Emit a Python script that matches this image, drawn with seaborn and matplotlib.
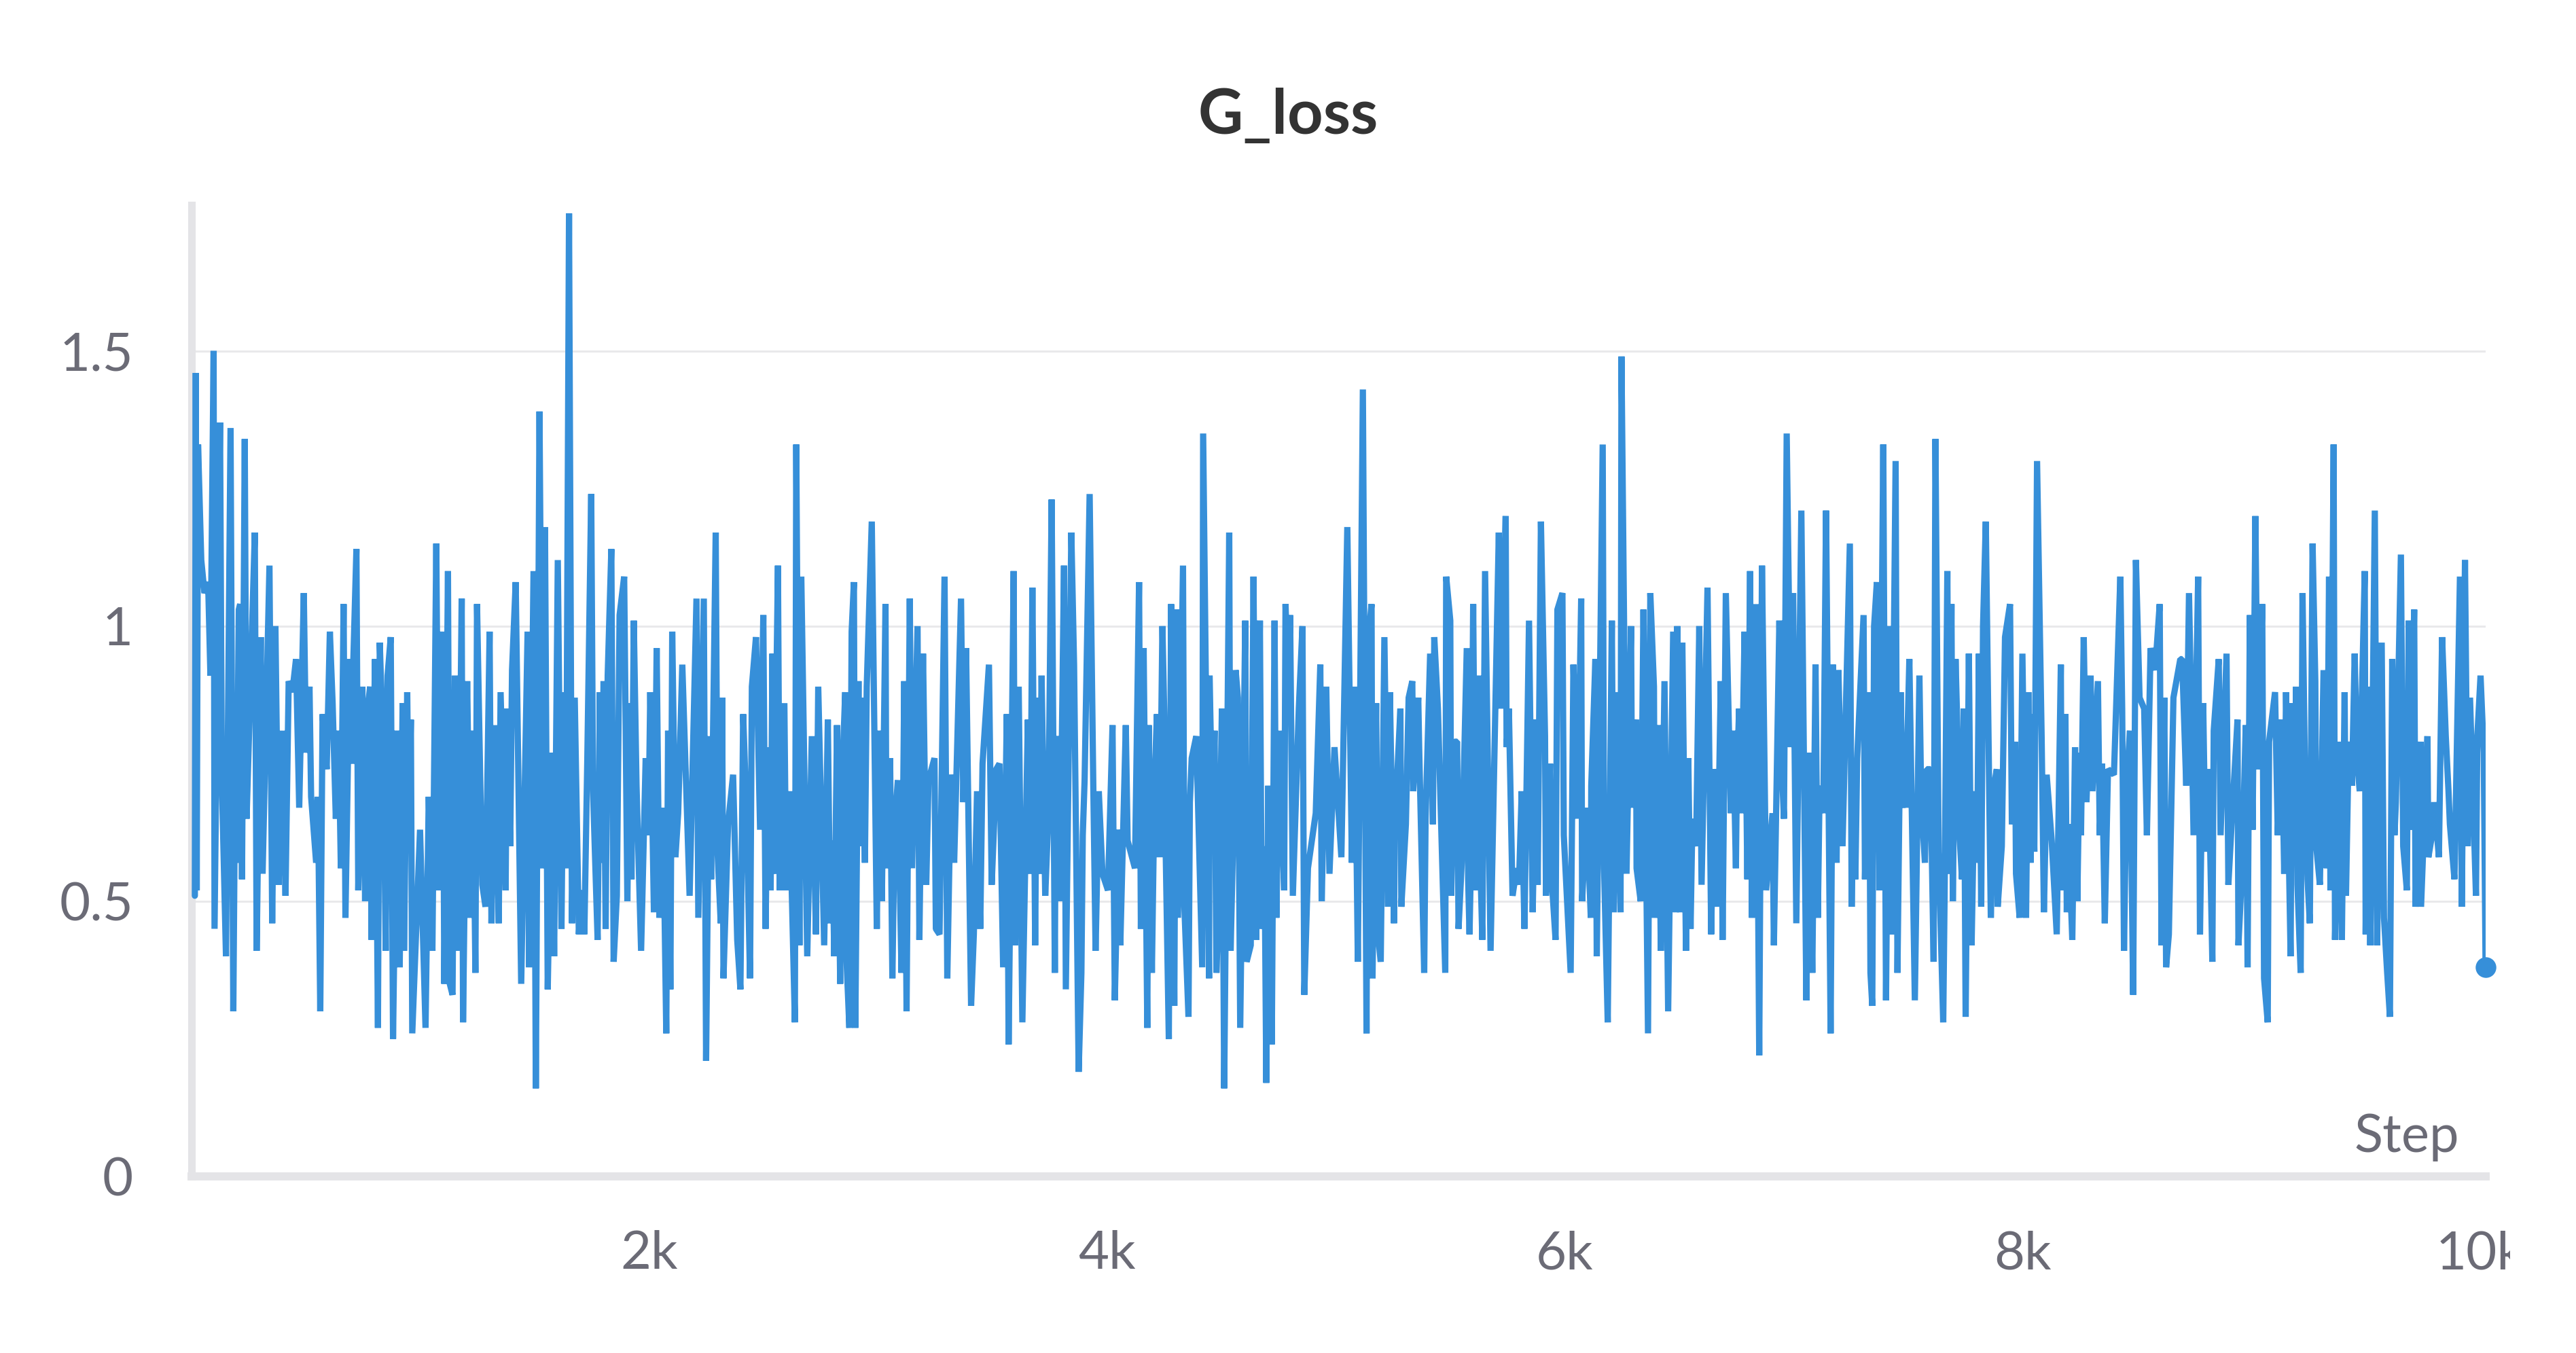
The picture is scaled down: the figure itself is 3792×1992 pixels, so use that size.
import matplotlib
matplotlib.use("Agg")
import matplotlib.pyplot as plt
import seaborn as sns
import pandas as pd
from matplotlib.transforms import Bbox, TransformedBbox

# G_loss curve, in drawing order
step = [
    14, 18, 22, 28, 42, 56, 72, 82, 96, 100, 124, 132,
    150, 170, 182, 192, 196, 206, 212, 220, 232, 240, 254, 276,
    284, 302, 310, 340, 352, 366, 380, 396, 410, 424, 440, 456,
    470, 490, 500, 515, 522, 544, 552, 562, 572, 590, 604, 616,
    630, 642, 652, 664, 672, 690, 700, 706, 720, 728, 746, 758,
    766, 780, 786, 801, 814, 822, 838, 848, 856, 870, 880,
    # 1k
    898, 909, 922, 928, 942, 948, 958, 964, 998, 1022, 1036, 1052,
    1069, 1080, 1097, 1104, 1120, 1128, 1140, 1150, 1164, 1180, 1186, 1204,
    1218, 1228, 1240, 1247, 1262, 1270, 1284, 1302, 1310, 1326, 1342, 1350,
    1372, 1378, 1392, 1400, 1416, 1440, 1468, 1474, 1494, 1504, 1520, 1534,
    1544, 1556, 1574, 1584, 1600, 1616, 1626, 1636, 1649, 1662, 1674, 1692,
    1704, 1716, 1729, 1746, 1754, 1774, 1784, 1789,
    # 2k
    1800, 1809, 1818, 1834, 1844, 1858, 1870, 1890, 1904, 1914, 1922, 1932,
    1944, 1964, 1984, 1996, 2004, 2020, 2032, 2044, 2060, 2074, 2082, 2092,
    2100, 2114, 2126, 2144, 2176, 2206, 2214, 2238, 2248, 2262, 2270, 2290,
    2298, 2312, 2318, 2324, 2344, 2366, 2384, 2398, 2410, 2426, 2440, 2448,
    2466, 2484, 2498, 2508, 2518, 2530, 2538, 2544, 2562, 2570, 2590, 2598,
    2612, 2636, 2642, 2656, 2664, 2690, 2710, 2728, 2738,
    # 3k
    2764, 2780, 2790, 2800, 2808, 2820, 2834, 2840, 2856, 2862, 2874, 2884,
    2894, 2900, 2914, 2920, 2928, 2942, 2950, 2972, 2994, 3004, 3016, 3032,
    3036, 3052, 3062, 3072, 3086, 3102, 3114, 3124, 3138, 3148, 3172, 3180,
    3196, 3210, 3220, 3246, 3252, 3268, 3290, 3302, 3318, 3332, 3362, 3372,
    3384, 3406, 3418, 3432, 3446, 3456, 3484, 3496, 3516, 3530, 3546, 3562,
    3570, 3592, 3598, 3614, 3630, 3654, 3664,
    # 4k
    3674, 3686, 3694, 3704, 3714, 3730, 3744, 3758, 3772, 3776, 3788, 3794,
    3812, 3820, 3844, 3856, 3876, 3888, 3894, 3902, 3924, 3940, 3950, 3964,
    3980, 4004, 4024, 4034, 4050, 4058, 4082, 4090, 4122, 4140, 4148, 4160,
    4176, 4182, 4196, 4208, 4218, 4230, 4242, 4250, 4256, 4270, 4280, 4294,
    4302, 4310, 4332, 4338, 4356, 4362, 4370, 4390, 4416, 4420, 4446, 4448,
    4460, 4470, 4478, 4490, 4502, 4512, 4534, 4540, 4556, 4562,
    # 5k
    4572, 4582, 4604, 4610, 4628, 4640, 4652, 4668, 4676, 4688, 4696, 4704,
    4720, 4732, 4740, 4752, 4774, 4780, 4792, 4800, 4812, 4838, 4854, 4862,
    4878, 4912, 4932, 4938, 4958, 4972, 4994, 5024, 5050, 5070, 5082, 5096,
    5118, 5134, 5140, 5156, 5160, 5176, 5184, 5196, 5212, 5228, 5236, 5254,
    5258, 5282, 5286, 5306, 5318, 5334, 5338, 5360, 5364, 5386, 5392, 5412,
    5424, 5430, 5446, 5464, 5478, 5482, 5500, 5504, 5518,
    # 6k
    5530, 5536, 5550, 5572, 5578, 5584, 5592, 5600, 5610, 5624, 5630, 5640,
    5652, 5676, 5712, 5722, 5742, 5746, 5756, 5772, 5790, 5800, 5812, 5824,
    5844, 5860, 5876, 5882, 5896, 5914, 5918, 5936, 5940, 5960, 5968, 5990,
    5996, 6026, 6038, 6056, 6072, 6076, 6096, 6114, 6116, 6134, 6140, 6166,
    6172, 6188, 6206, 6214, 6226, 6244, 6248, 6270, 6290, 6294, 6312, 6314,
    6332, 6344, 6364, 6374, 6390, 6394,
    # 7k
    6410, 6420, 6436, 6452, 6474, 6486, 6492, 6504, 6514, 6530, 6540, 6550,
    6558, 6574, 6588, 6598, 6624, 6640, 6652, 6666, 6682, 6690, 6704, 6726,
    6736, 6748, 6752, 6762, 6772, 6786, 6798, 6810, 6818, 6836, 6850, 6862,
    6880, 6908, 6914, 6938, 6948, 6958, 6970, 6988, 6998, 7012, 7034, 7056,
    7066, 7082, 7096, 7106, 7114, 7130, 7142, 7162, 7172, 7188, 7196, 7214,
    7246, 7254, 7262, 7270, 7278, 7306, 7312, 7330,
    # 8k
    7336, 7344, 7352, 7364, 7376, 7392, 7404, 7418, 7426, 7446, 7454, 7468,
    7476, 7480, 7490, 7506, 7530, 7550, 7558, 7574, 7582, 7598, 7612, 7620,
    7634, 7654, 7660, 7672, 7680, 7690, 7696, 7708, 7716, 7720, 7736, 7744,
    7752, 7766, 7778, 7790, 7802, 7810, 7820, 7828, 7840, 7862, 7876, 7888,
    7892, 7910, 7924, 7946, 7954, 7968, 7972, 7988, 8000, 8016, 8026, 8036,
    8040, 8052, 8064, 8084, 8094, 8106, 8128, 8150, 8168, 8172, 8188, 8194,
    8200, 8218, 8230, 8240,
    # 9k
    8250, 8256, 8268, 8280, 8298, 8306, 8330, 8338, 8348, 8360, 8374, 8400,
    8428, 8436, 8444, 8454, 8470, 8484, 8496, 8512, 8532, 8544, 8560, 8580,
    8600, 8608, 8620, 8628, 8640, 8660, 8690, 8698, 8716, 8728, 8748, 8768,
    8776, 8790, 8800, 8814, 8830, 8836, 8858, 8866, 8892, 8900, 8918, 8940,
    8944, 8960, 8976, 8984, 8994, 9006, 9018, 9030, 9048, 9056, 9072, 9078,
    9104, 9116, 9132, 9144, 9152,
    # 10k
    9172, 9178, 9186, 9196, 9202, 9216, 9224, 9236, 9246, 9256, 9268, 9280,
    9284, 9300, 9316, 9330, 9340, 9346, 9360, 9366, 9386, 9396, 9408, 9414,
    9426, 9440, 9452, 9462, 9474, 9496, 9500, 9512, 9520, 9540, 9550, 9570,
    9580, 9594, 9606, 9616, 9626, 9632, 9654, 9664, 9680, 9688, 9694, 9712,
    9718, 9740, 9742, 9770, 9774, 9790, 9800, 9820, 9834, 9850, 9862, 9868,
    9888, 9912, 9920, 9934, 9946, 9956, 9982, 9988, 10002, 10016, 10024,
]
g_loss = [
    .51, 1.46, .52, 1.33, 1.12, 1.06, 1.08, .91, 1.50, .45, 1.37, .72,
    .40, 1.36, .30, .84, .57, 1.03, 1.04, .54, 1.34, .65, .85, 1.17,
    .41, .98, .55, 1.11, .46, 1.00, .53, .81, .51, .90, .88, .94,
    .67, 1.06, .77, .89, .69, .57, .69, .30, .84, .74, .99, .86,
    .65, .81, .56, 1.04, .47, .94, .75, .93, 1.14, .52, .89, .50,
    .84, .89, .43, .94, .27, .97, .76, .41, .91, .98, .25,
    # 1k
    .81, .38, .86, .41, .88, .63, .83, .26, .63, .27, .69, .41,
    1.15, .52, .99, .35, 1.10, .35, .33, .91, .41, 1.05, .28, .90,
    .47, .81, .37, 1.04, .70, .53, .49, .99, .46, .82, .46, .88,
    .52, .85, .60, .92, 1.08, .35, .99, .38, 1.10, .16, 1.39, .56,
    1.18, .34, .77, .40, 1.12, .45, .88, .56, 1.75, .46, .87, .44,
    .52, .44, .76, 1.24, .70, .43, .88, .57,
    # 2k
    .90, .45, .91, 1.14, .39, .51, 1.02, 1.09, .50, .86, .54, 1.01,
    .71, .41, .76, .62, .88, .48, .96, .47, .67, .26, .81, .34,
    .99, .58, .66, .93, .51, 1.05, .47, 1.05, .21, .80, .54, 1.17,
    .59, .46, .87, .36, .64, .73, .43, .34, .84, .64, .36, .89,
    .98, .63, 1.02, .45, .78, .52, .95, .55, 1.11, .52, .86, .52,
    .70, .28, 1.33, .42, 1.09, .40, .80, .44, .89,
    # 3k
    .42, .83, .46, .61, .40, .82, .35, .70, .88, .39, .27, .99,
    1.08, .27, .90, .60, .87, .57, .89, 1.19, .45, .81, .50, 1.04,
    .56, .76, .36, .64, .72, .37, .90, .30, 1.05, .56, 1.00, .43,
    .95, .53, .72, .76, .45, .44, 1.09, .36, .73, .57, 1.05, .68,
    .96, .31, .44, .70, .45, .75, .93, .53, .74, .75, .38, .84,
    .24, 1.10, .42, .89, .28, .83, .55,
    # 4k
    1.07, .42, .87, .55, .91, .51, .66, 1.23, .37, .77, .80, .50,
    1.11, .34, 1.17, .93, .19, .37, .62, .72, 1.24, .71, .41, .70,
    .55, .52, .82, .32, .63, .42, .82, .61, .56, 1.08, .45, .96,
    .27, .82, .37, .72, .84, .58, 1.00, .84, .60, .25, 1.04, .31,
    1.03, .47, 1.11, .49, .29, .68, .76, .80, .38, 1.35, .36, .91,
    .66, .81, .37, .52, .85, .16, 1.17, .41, .70, .92,
    # 5k
    .87, .27, 1.01, .39, .42, 1.09, .43, 1.01, .45, .60, .17, .71,
    .24, 1.01, .47, .81, .52, 1.04, .88, 1.02, .51, .85, 1.00, .33,
    .56, .66, .93, .50, .89, .55, .78, .58, 1.18, .57, .89, .39,
    1.43, .26, .97, 1.04, .36, .86, .44, .39, .98, .49, .88, .46,
    .64, .85, .49, .64, .87, .90, .70, .87, .78, .37, .65, .95,
    .64, .98, .85, .58, .37, 1.09, 1.01, .51, .79,
    # 6k
    .79, .45, .57, .96, .54, .44, .61, 1.04, .52, .91, .59, .43,
    1.10, .41, 1.17, .85, 1.20, .78, .85, .51, .56, .53, .70, .45,
    1.01, .48, .83, .53, 1.19, .80, .51, .75, .56, .43, 1.03, 1.06,
    .62, .37, .93, .65, 1.05, .50, .67, .47, .71, .94, .40, 1.33,
    .56, .28, 1.01, .48, .88, .48, 1.49, .55, 1.00, .67, .83, .56,
    .50, 1.03, .26, 1.06, .89, .47,
    # 7k
    .82, .41, .90, .30, .99, .48, 1.00, .48, .97, .41, .76, .45,
    .65, .60, 1.00, .53, 1.07, .44, .74, .49, .90, .43, 1.06, .66,
    .81, .56, .71, .85, .66, .99, .54, 1.10, .47, 1.04, .22, 1.11,
    .52, .66, .42, 1.01, .75, .65, 1.35, .78, 1.06, .46, 1.21, .32,
    .77, .37, .93, .47, .71, .66, 1.21, .26, .93, .57, .92, .60,
    1.15, .49, .75, .54, .76, 1.02, .54, .88,
    # 8k
    .37, .31, 1.00, 1.08, .52, 1.33, .32, 1.00, .44, 1.30, .37, .88,
    .67, .78, .67, .94, .32, .91, .68, .57, .74, .74, .39, 1.34,
    .59, .28, .51, 1.10, .55, 1.04, .50, .94, .81, .66, .54, .85,
    .29, .95, .42, .70, .57, .95, .49, 1.00, 1.19, .47, .71, .74,
    .49, .60, .98, 1.04, .64, .79, .55, .47, .95, .47, .88, .57,
    .84, .59, 1.30, .80, .48, .73, .61, .44, .93, .52, .84, .48,
    .64, .43, .78, .50,
    # 9k
    .77, .62, .98, .68, .91, .70, .90, .62, .75, .46, .74, .73,
    1.09, .85, .41, .70, .81, .33, 1.12, .87, .85, .62, .96, .92,
    1.04, .42, .87, .38, .44, .87, .94, .94, .71, 1.06, .62, 1.09,
    .44, .86, .59, .74, .39, .81, .94, .62, .95, .53, .67, .83,
    .42, .56, .82, .38, 1.02, .63, 1.20, .74, 1.04, .36, .28, .79,
    .88, .62, .83, .55, .88,
    # 10k
    .40, .86, .61, .89, .53, .37, 1.06, .70, .54, .46, 1.15, .90,
    .60, .53, .92, .56, 1.09, .52, 1.33, .43, .79, .43, .88, .51,
    .79, .71, .95, .76, .70, 1.10, .44, .89, .42, 1.21, .42, .97,
    .47, .37, .29, .94, .62, .68, 1.13, .60, .52, 1.01, .63, 1.03,
    .49, .79, .49, .80, .58, .62, .68, .58, .98, .80, .70, .64,
    .54, 1.09, .49, 1.12, .60, .87, .51, .80, .91, .77, .38,
]
assert len(step) == len(g_loss)

y_ticks = [0, 0.5, 1, 1.5]
y_labels = ["0", "0.5", "1", "1.5"]
x_ticks = [2000, 4000, 6000, 8000, 10000]
x_labels = ["2k", "4k", "6k", "8k", "10k"]

blue = "#368fd9"
txt_grey = "#6b6b76"
line_grey = "#e4e4e7"

sns.set_theme(style="white")
plt.rcParams["font.family"] = ["Lato", "DejaVu Sans"]

df = pd.DataFrame({"Step": step, "G_loss": g_loss})

fig = plt.figure(figsize=(18.96, 9.96), dpi=200)
ax = fig.add_axes([0.0744, 0.1305, 0.8905, 0.7179])

sns.lineplot(data=df, x="Step", y="G_loss", ax=ax, estimator=None, sort=False,
             color=blue, linewidth=3.3, solid_joinstyle="bevel", zorder=3)
# dot on the last logged value
sns.scatterplot(data=df.tail(1), x="Step", y="G_loss", ax=ax, color=blue,
                s=120, linewidth=0, zorder=4, clip_on=False)

ax.set_xlim(0, step[-1])
ax.set_ylim(0, 1.765)
ax.set_xticks(x_ticks, labels=x_labels)
ax.set_yticks(y_ticks, labels=y_labels)
ax.tick_params(axis="both", direction="inout", length=26, width=1.1,
               color=line_grey, labelsize=28, labelcolor=txt_grey)
ax.tick_params(axis="x", pad=15.5)
ax.tick_params(axis="y", pad=18)

ax.set_axisbelow(True)
ax.grid(True, axis="y", color="#e9e9eb", linewidth=1.1)
ax.grid(False, axis="x")

for s in ["top", "right"]:
    ax.spines[s].set_visible(False)
ax.spines["left"].set_color(line_grey)
ax.spines["left"].set_linewidth(4.0)
ax.spines["bottom"].set_color(line_grey)
ax.spines["bottom"].set_linewidth(4.3)

ax.set_ylabel("")
ax.set_xlabel("Step", fontsize=28, color=txt_grey, ha="right", va="baseline")
ax.xaxis.set_label_coords(0.9884, 0.025)

fig.text(0.5, 1 - 171 / 1992, "G_loss", ha="center", va="center",
         fontsize=33, fontweight="bold", color="#333333")

# the panel cuts the last tick label, as in the screenshot
clip = TransformedBbox(Bbox([[0, 0], [3695 / 3792, 1]]), fig.transFigure)
for lab in ax.get_xticklabels():
    if lab.get_text() == "10k":
        lab.set_clip_box(clip)
        lab.set_clip_on(True)

fig.savefig("out.png", dpi=200)
